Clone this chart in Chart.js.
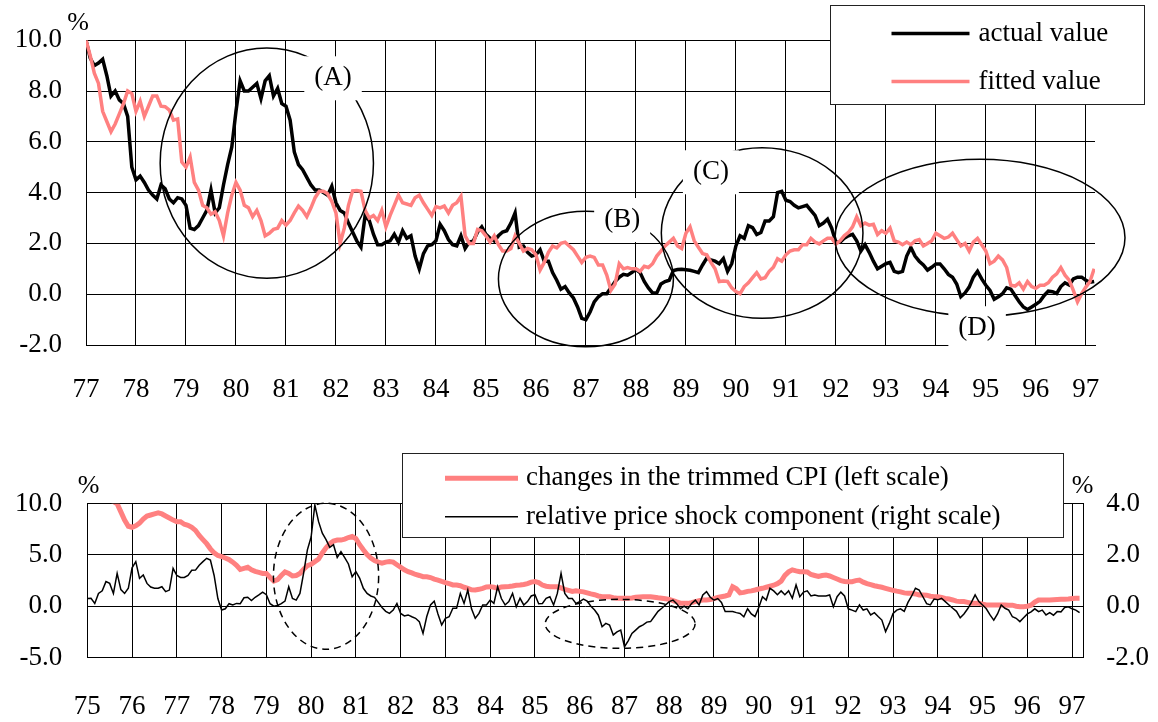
<!DOCTYPE html>
<html>
<head>
<meta charset="utf-8">
<script src="https://cdn.jsdelivr.net/npm/chart.js@4/dist/chart.umd.min.js"></script>
<style>
  html, body { margin: 0; padding: 0; background: #fff; }
  #wrap { position: relative; width: 1158px; height: 722px; }
  canvas { position: absolute; left: 0; }
  #topChart { top: 0; }
  #bottomChart { top: 440px; }
</style>
</head>
<body>
<div id="wrap">
  <canvas id="topChart" width="1158" height="420"></canvas>
  <canvas id="bottomChart" width="1158" height="282"></canvas>
</div>
<script>
/*** DATA ***/
// top panel: monthly, Jan 77 .. Mar 97
const topYears = ['77','78','79','80','81','82','83','84','85','86','87','88','89','90','91','92','93','94','95','96','97'];
const actualValue = [
  10.0, 9.3, 9.0, 9.1, 9.25, 8.6, 7.8, 8.0, 7.65, 7.5,
  7.0, 5.0, 4.5, 4.65, 4.4, 4.1, 3.9, 3.75, 4.3, 4.15,
  3.75, 3.6, 3.8, 3.75, 3.5, 2.6, 2.55, 2.7, 3.0, 3.3,
  4.1, 3.2, 3.4, 4.3, 5.1, 5.8, 7.2, 8.4, 8.0, 8.0,
  8.15, 8.3, 7.7, 8.4, 8.6, 7.8, 8.1, 7.5, 7.4, 6.85,
  5.6, 5.1, 4.9, 4.6, 4.3, 4.1, 4.1, 4.0, 3.9, 4.25,
  3.6, 3.3, 3.2, 2.8, 2.45, 2.1, 1.85, 3.1, 2.9, 2.36,
  1.95, 1.95, 2.05, 2.1, 2.36, 2.05, 2.5, 2.2, 2.3, 1.5,
  1.0, 1.6, 1.9, 1.95, 2.1, 2.75, 2.5, 2.15, 1.95, 1.9,
  2.3, 1.8, 2.05, 2.1, 2.45, 2.65, 2.36, 2.2, 2.1, 2.3,
  2.45, 2.5, 2.8, 3.2, 1.85, 1.9, 1.65, 1.5, 1.55, 1.75,
  1.3, 1.3, 0.85, 0.55, 0.2, 0.3, 0.05, -0.15, -0.5, -0.95,
  -1.0, -0.7, -0.3, -0.1, 0.02, 0.02, 0.25, 0.5, 0.67, 0.78,
  0.75, 0.85, 0.98, 0.85, 0.5, 0.25, 0.05, 0.05, 0.4, 0.5,
  0.55, 0.93, 0.97, 0.98, 0.96, 0.94, 0.9, 0.85, 1.15, 1.42,
  1.35, 1.3, 1.2, 1.4, 0.9, 1.2, 1.9, 2.3, 2.2, 2.7,
  2.62, 2.35, 2.43, 2.88, 2.88, 3.05, 4.0, 4.05, 3.7, 3.65,
  3.5, 3.4, 3.45, 3.5, 3.3, 3.1, 2.7, 2.8, 2.95, 2.6,
  2.05, 2.05, 2.2, 2.3, 2.36, 2.1, 1.7, 1.95, 1.65, 1.3,
  1.0, 1.1, 1.2, 1.25, 0.9, 0.85, 0.9, 1.5, 1.84, 1.5,
  1.3, 1.15, 0.95, 1.06, 1.19, 1.19, 1.0, 0.78, 0.67, 0.4,
  -0.1, 0.05, 0.28, 0.67, 0.9, 0.6, 0.35, 0.15, -0.2, -0.1,
  0.02, 0.25, 0.2, -0.05, -0.3, -0.5, -0.6, -0.5, -0.4, -0.28,
  -0.05, 0.12, 0.1, 0.03, 0.3, 0.45, 0.36, 0.6, 0.67, 0.67,
  0.55, 0.47, 0.5
];
const fittedValue = [
  10.0, 9.4, 8.7, 8.3, 7.2, 6.8, 6.4, 6.7, 7.1, 7.5,
  8.0, 7.9, 7.2, 7.6, 7.0, 7.4, 7.8, 7.8, 7.4, 7.38,
  7.25, 6.85, 6.9, 5.2, 5.0, 5.4, 4.4, 4.1, 3.5, 3.4,
  3.15, 3.25, 2.9, 2.3, 3.2, 3.9, 4.4, 4.1, 3.5, 3.4,
  3.05, 3.3, 2.9, 2.3, 2.4, 2.55, 2.6, 2.9, 2.72, 2.9,
  3.2, 3.47, 3.3, 3.05, 3.4, 3.8, 4.05, 4.05, 3.95, 3.65,
  3.2, 2.0, 2.6, 3.5, 4.07, 4.08, 4.05, 3.3, 3.0, 3.1,
  2.9, 3.3, 2.65, 3.1, 3.5, 3.9, 3.6, 3.55, 3.5, 3.8,
  3.9, 3.6, 3.35, 3.1, 3.45, 3.4, 3.47, 3.2, 3.5, 3.6,
  3.85, 2.3, 2.0, 2.0, 2.55, 2.5, 2.3, 2.05, 2.3, 1.95,
  1.7, 1.7, 1.8, 2.3, 2.0, 1.7, 1.8, 1.75, 1.55, 0.95,
  1.25, 1.65, 1.9, 1.82, 2.0, 2.05, 1.9, 1.75, 1.5, 1.25,
  1.45, 1.5, 1.45, 1.15, 1.15, 0.75, 0.15, 0.4, 1.2, 1.0,
  1.05, 1.0, 1.0, 0.9, 1.1, 1.05, 1.2, 1.5, 1.7, 1.9,
  2.05, 2.2, 1.9, 1.8, 2.4, 2.65, 2.1, 1.85, 1.6, 1.55,
  1.25, 1.0, 0.5, 0.52, 0.5, 0.25, 0.1, 0.02, 0.3, 0.45,
  0.65, 0.85, 0.6, 0.65, 0.9, 1.06, 1.4, 1.3, 1.55, 1.7,
  1.75, 1.75, 1.95, 1.95, 2.2, 2.05, 1.98, 2.1, 2.2, 2.2,
  1.97, 2.1, 2.3, 2.43, 2.65, 3.05, 2.7, 2.8, 2.72, 2.75,
  2.35, 2.5, 2.4, 2.6, 2.1, 2.05, 1.95, 2.05, 1.95, 2.1,
  2.15, 1.9, 2.0, 2.1, 2.4, 2.3, 2.2, 2.25, 2.4, 2.15,
  1.9, 2.0, 1.7, 2.05, 2.2, 1.95, 1.7, 1.2, 1.3, 1.5,
  1.35, 1.05, 0.35, 0.32, 0.45, 0.2, 0.5, 0.3, 0.23, 0.35,
  0.35, 0.45, 0.67, 0.8, 1.05, 0.75, 0.55, 0.15, -0.3, 0.02,
  0.28, 0.5, 1.0
];

// bottom panel: monthly, Jan 75 .. Mar 97
const bottomYears = ['75','76','77','78','79','80','81','82','83','84','85','86','87','88','89','90','91','92','93','94','95','96','97'];
const trimmedCpi = [
  null, null, null, null, null, null, 10.4, 10.2, 10.0, 9.2,
  8.4, 7.8, 7.7, 7.85, 8.1, 8.5, 8.8, 8.9, 9.0, 9.1,
  9.0, 8.8, 8.6, 8.4, 8.25, 8.25, 8.0, 7.9, 7.7, 7.4,
  6.9, 6.5, 6.1, 5.6, 5.2, 4.95, 4.85, 4.7, 4.55, 4.3,
  4.0, 3.6, 3.7, 3.8, 3.55, 3.4, 3.3, 3.2, 3.2, 2.8,
  2.45, 2.6, 3.0, 3.35, 3.2, 2.95, 3.0, 3.2, 3.6, 3.95,
  4.1, 4.35, 4.6, 5.2, 5.7, 6.1, 6.35, 6.45, 6.45, 6.55,
  6.7, 6.8, 6.6, 6.0, 5.5, 5.05, 4.7, 4.45, 4.3, 4.2,
  4.3, 4.35, 4.3, 4.05, 3.8, 3.55, 3.37, 3.25, 3.1, 3.0,
  2.88, 2.88, 2.8, 2.65, 2.55, 2.42, 2.3, 2.2, 2.08, 2.07,
  2.0, 1.85, 1.75, 1.6, 1.58, 1.65, 1.75, 1.88, 1.91, 1.85,
  1.75, 1.88, 1.91, 1.92, 1.97, 2.05, 2.07, 2.12, 2.2, 2.35,
  2.4, 2.3, 2.07, 1.95, 1.91, 1.91, 1.9, 1.78, 1.65, 1.55,
  1.45, 1.5, 1.45, 1.4, 1.3, 1.2, 1.12, 1.0, 0.93, 0.93,
  0.93, 0.83, 0.77, 0.77, 0.77, 0.77, 0.8, 0.87, 0.9, 0.93,
  0.93, 0.92, 0.88, 0.82, 0.77, 0.72, 0.67, 0.55, 0.42, 0.3,
  0.28, 0.28, 0.35, 0.45, 0.55, 0.61, 0.61, 0.65, 0.75, 0.85,
  0.93, 1.0, 1.1, 1.9, 1.7, 1.3, 1.35, 1.45, 1.5, 1.58,
  1.68, 1.75, 1.85, 1.95, 2.05, 2.2, 2.45, 3.0, 3.35, 3.55,
  3.45, 3.37, 3.37, 3.35, 3.1, 3.0, 2.9, 3.0, 3.05, 2.95,
  2.8, 2.65, 2.5, 2.42, 2.4, 2.4, 2.5, 2.55, 2.35, 2.2,
  2.1, 2.0, 1.92, 1.85, 1.75, 1.65, 1.55, 1.47, 1.4, 1.3,
  1.26, 1.26, 1.2, 1.1, 1.1, 1.08, 0.98, 0.93, 0.93, 0.85,
  0.77, 0.7, 0.61, 0.5, 0.45, 0.45, 0.38, 0.3, 0.28, 0.28,
  0.2, 0.12, 0.12, 0.12, 0.12, 0.12, 0.12, 0.1, 0.1, 0.0,
  -0.04, -0.04, 0.0, 0.1, 0.4, 0.61, 0.61, 0.61, 0.61, 0.63,
  0.65, 0.67, 0.67, 0.7, 0.75, 0.77, 0.77
];
const priceShock = [
  0.3, 0.31, 0.11, 0.5, 0.6, 0.96, 0.89, 0.5, 1.28, 0.65,
  0.5, 0.7, 1.5, 1.74, 1.09, 1.22, 0.89, 0.75, 0.7, 0.7,
  0.76, 0.57, 0.63, 1.48, 1.2, 1.12, 1.12, 1.2, 1.4, 1.41,
  1.6, 1.74, 1.87, 1.8, 1.2, 0.3, -0.15, -0.1, 0.1, 0.05,
  0.11, 0.1, 0.33, 0.35, 0.22, 0.35, 0.44, 0.55, 0.45, 0.1,
  0.0, 0.03, 0.1, 0.2, 0.76, 0.3, 0.24, 0.5, 1.3, 2.2,
  2.7, 3.95, 3.3, 2.85, 2.6, 2.3, 2.4, 1.9, 2.13, 1.9,
  1.65, 1.15, 1.35, 1.1, 0.7, 0.5, 0.4, 0.35, 0.15, -0.05,
  -0.2, -0.28, -0.15, 0.11, -0.28, -0.38, -0.34, -0.41, -0.47, -0.6,
  -1.06, -0.4, 0.05, 0.2, -0.3, -0.73, -0.47, -0.41, -0.08, -0.08,
  0.5, 0.11, 0.63, -0.1, -0.47, -0.28, 0.05, 0.05, 0.24, 0.11,
  0.76, 0.3, 0.05, 0.18, 0.5, -0.02, 0.31, 0.05, 0.18, 0.4,
  0.45, 0.1, 0.11, 0.31, 0.37, 0.05, 0.5, 1.28, 0.5, 0.3,
  0.3, 0.11, 0.18, 0.28, 0.2, 0.0, -0.15, -0.35, -0.8, -0.67,
  -0.73, -1.12, -1.0, -0.93, -1.58, -1.35, -1.06, -0.93, -0.8, -0.73,
  -0.62, -0.6, -0.4, -0.2, -0.08, 0.05, 0.18, 0.24, 0.1, -0.1,
  0.0, -0.1, 0.11, 0.24, 0.05, 0.44, 0.57, 0.35, 0.24, 0.3,
  0.15, -0.21, -0.21, -0.21, -0.25, -0.28, -0.41, -0.1, -0.3, -0.4,
  -0.05, 0.37, 0.24, 0.7, 0.6, 0.45, 0.6, 0.45, 0.6, 0.31,
  0.83, 0.37, 0.55, 0.6, 0.4, 0.44, 0.4, 0.4, 0.4, 0.44,
  -0.02, 0.37, 0.55, 0.4, -0.1, -0.15, -0.21, 0.05, -0.15, -0.1,
  -0.34, -0.25, -0.4, -0.54, -0.99, -0.67, -0.28, -0.15, -0.1, -0.2,
  0.15, 0.4, 0.7, 0.63, 0.37, 0.1, 0.05, 0.28, 0.25, 0.31,
  0.18, 0.05, -0.08, -0.2, -0.45, -0.3, -0.1, 0.15, 0.44, 0.18,
  0.05, -0.1, -0.34, -0.54, -0.3, 0.05, -0.08, -0.15, -0.41, -0.47,
  -0.6, -0.45, -0.3, -0.22, -0.1, -0.21, -0.15, -0.34, -0.25, -0.35,
  -0.21, -0.22, -0.05, -0.02, -0.1, -0.15, -0.25
];

/*** STYLE ***/
const FONT = '"Liberation Serif", "Times New Roman", serif';
const PINK = '#ff8080';
Chart.defaults.font.family = FONT;
Chart.defaults.font.size = 27;
Chart.defaults.color = '#000';

const toPoints = arr => arr.map((v, i) => ({ x: i, y: v }));

// ellipses, (A)..(D) labels, % marks and the boxed legend
const overlayPlugin = {
  id: 'overlay',
  afterDraw(chart, args, opts) {
    const ctx = chart.ctx;
    const xs = chart.scales.x, ys = chart.scales.y;
    ctx.save();
    ctx.strokeStyle = '#000';
    ctx.lineWidth = 1.5;
    (opts.ellipses || []).forEach(e => {
      const cx = xs.getPixelForValue(e.x), cy = ys.getPixelForValue(e.y);
      const rx = Math.abs(xs.getPixelForValue(e.x + e.rx) - cx);
      const ry = Math.abs(ys.getPixelForValue(e.y + e.ry) - cy);
      ctx.setLineDash(e.dash || []);
      ctx.beginPath();
      ctx.ellipse(cx, cy, rx, ry, 0, 0, Math.PI * 2);
      ctx.stroke();
    });
    ctx.setLineDash([]);
    ctx.font = '27px ' + FONT;
    ctx.textAlign = 'center';
    ctx.textBaseline = 'middle';
    (opts.labels || []).forEach(l => {
      const px = xs.getPixelForValue(l.x), py = ys.getPixelForValue(l.y);
      const w = ctx.measureText(l.text).width + 20;
      ctx.fillStyle = '#fff';
      ctx.fillRect(px - w / 2, py - 22, w, 44);
      ctx.fillStyle = '#000';
      ctx.fillText(l.text, px, py);
    });
    ctx.textBaseline = 'alphabetic';
    ctx.font = '26px ' + FONT;
    (opts.units || []).forEach(u => ctx.fillText('%', u.x, u.y));

    const lg = opts.legend;
    if (lg) {
      ctx.fillStyle = '#fff';
      ctx.fillRect(lg.x, lg.y, lg.w, lg.h);
      ctx.strokeStyle = '#222';
      ctx.lineWidth = 1;
      ctx.strokeRect(lg.x, lg.y, lg.w, lg.h);
      ctx.font = '27px ' + FONT;
      ctx.textAlign = 'left';
      ctx.textBaseline = 'middle';
      chart.data.datasets.forEach((ds, i) => {
        const y = lg.y + lg.rows[i];
        ctx.strokeStyle = ds.borderColor;
        ctx.lineWidth = ds.borderWidth;
        ctx.beginPath();
        ctx.moveTo(lg.x + lg.line[0], y);
        ctx.lineTo(lg.x + lg.line[1], y);
        ctx.stroke();
        ctx.fillStyle = '#000';
        ctx.fillText(ds.label, lg.x + lg.textX, y);
      });
    }
    ctx.restore();
  }
};

const gridStyle = { color: '#000', lineWidth: 1, drawTicks: false };

/*** TOP CHART ***/
new Chart(document.getElementById('topChart'), {
  type: 'line',
  data: {
    datasets: [{
      label: 'actual value',
      data: toPoints(actualValue),
      borderColor: '#000',
      borderWidth: 3.5,
      pointRadius: 0,
      tension: 0,
      order: 1
    }, {
      label: 'fitted value',
      data: toPoints(fittedValue),
      borderColor: PINK,
      borderWidth: 3.5,
      pointRadius: 0,
      tension: 0,
      order: 0
    }]
  },
  options: {
    responsive: false,
    animation: false,
    events: [],
    layout: { padding: { left: 0, right: 63, top: 38, bottom: 0 } },
    plugins: {
      legend: { display: false },
      tooltip: { enabled: false },
      overlay: {
        ellipses: [
          { x: 43.4, y: 5.16, rx: 25.6, ry: 4.53 },
          { x: 120.0, y: 0.6, rx: 21.0, ry: 2.67 },
          { x: 162.3, y: 2.41, rx: 24.2, ry: 3.36 },
          { x: 214.6, y: 2.22, rx: 34.8, ry: 3.09 }
        ],
        labels: [
          { text: '(A)', x: 59.3, y: 8.5 },
          { text: '(B)', x: 128.7, y: 2.92 },
          { text: '(C)', x: 150.0, y: 4.8 },
          { text: '(D)', x: 213.9, y: -1.34 }
        ],
        units: [{ x: 78, y: 30 }],
        legend: { x: 830.5, y: 5.5, w: 314, h: 99, rows: [28, 76], line: [61, 139], textX: 148 }
      }
    },
    scales: {
      x: {
        type: 'linear',
        min: 0,
        max: 242.2,
        afterFit: s => { s.height = 75; },
        grid: gridStyle,
        border: { color: '#000' },
        ticks: {
          stepSize: 12,
          includeBounds: false,
          autoSkip: false,
          maxRotation: 0,
          padding: 29,
          callback: v => topYears[v / 12]
        }
      },
      y: {
        min: -2,
        max: 10,
        afterFit: s => { s.width = 86; },
        grid: gridStyle,
        border: { color: '#000' },
        ticks: { stepSize: 2, padding: 24, callback: v => v.toFixed(1) }
      }
    }
  },
  plugins: [overlayPlugin]
});

/*** BOTTOM CHART ***/
new Chart(document.getElementById('bottomChart'), {
  type: 'line',
  data: {
    datasets: [{
      label: 'changes in the trimmed CPI (left scale)',
      data: toPoints(trimmedCpi),
      borderColor: PINK,
      borderWidth: 5,
      pointRadius: 0,
      tension: 0,
      yAxisID: 'y',
      order: 1
    }, {
      label: 'relative price shock component (right scale)',
      data: toPoints(priceShock),
      borderColor: '#000',
      borderWidth: 1.5,
      pointRadius: 0,
      tension: 0,
      yAxisID: 'y2',
      order: 0
    }]
  },
  options: {
    responsive: false,
    animation: false,
    events: [],
    layout: { padding: { left: 0, right: 0, top: 63.7, bottom: 0 } },
    plugins: {
      legend: { display: false },
      tooltip: { enabled: false },
      overlay: {
        ellipses: [
          { x: 64.0, y: 2.92, rx: 14.1, ry: 7.12, dash: [7, 5] },
          { x: 142.85, y: -1.72, rx: 20.1, ry: 2.39, dash: [7, 5] }
        ],
        units: [{ x: 88.5, y: 53 }, { x: 1082.5, y: 53 }],
        legend: { x: 402.5, y: 13.5, w: 661, h: 84, rows: [24.8, 63.2], line: [42.5, 115.5], textX: 123.5 }
      }
    },
    scales: {
      x: {
        type: 'linear',
        min: 0,
        max: 267,
        afterFit: s => { s.height = 64.5; },
        grid: gridStyle,
        border: { color: '#000' },
        ticks: {
          stepSize: 12,
          includeBounds: false,
          autoSkip: false,
          maxRotation: 0,
          padding: 33,
          callback: v => bottomYears[v / 12]
        }
      },
      y: {
        min: -5,
        max: 10,
        afterFit: s => { s.width = 87.3; },
        grid: gridStyle,
        border: { color: '#000' },
        ticks: { stepSize: 5, padding: 25, callback: v => v.toFixed(1) }
      },
      y2: {
        position: 'right',
        min: -2,
        max: 4,
        afterFit: s => { s.width = 74.7; },
        grid: { drawOnChartArea: false, drawTicks: false },
        border: { color: '#000' },
        ticks: { stepSize: 2, padding: 23, callback: v => v.toFixed(1) }
      }
    }
  },
  plugins: [overlayPlugin]
});
</script>
</body>
</html>
